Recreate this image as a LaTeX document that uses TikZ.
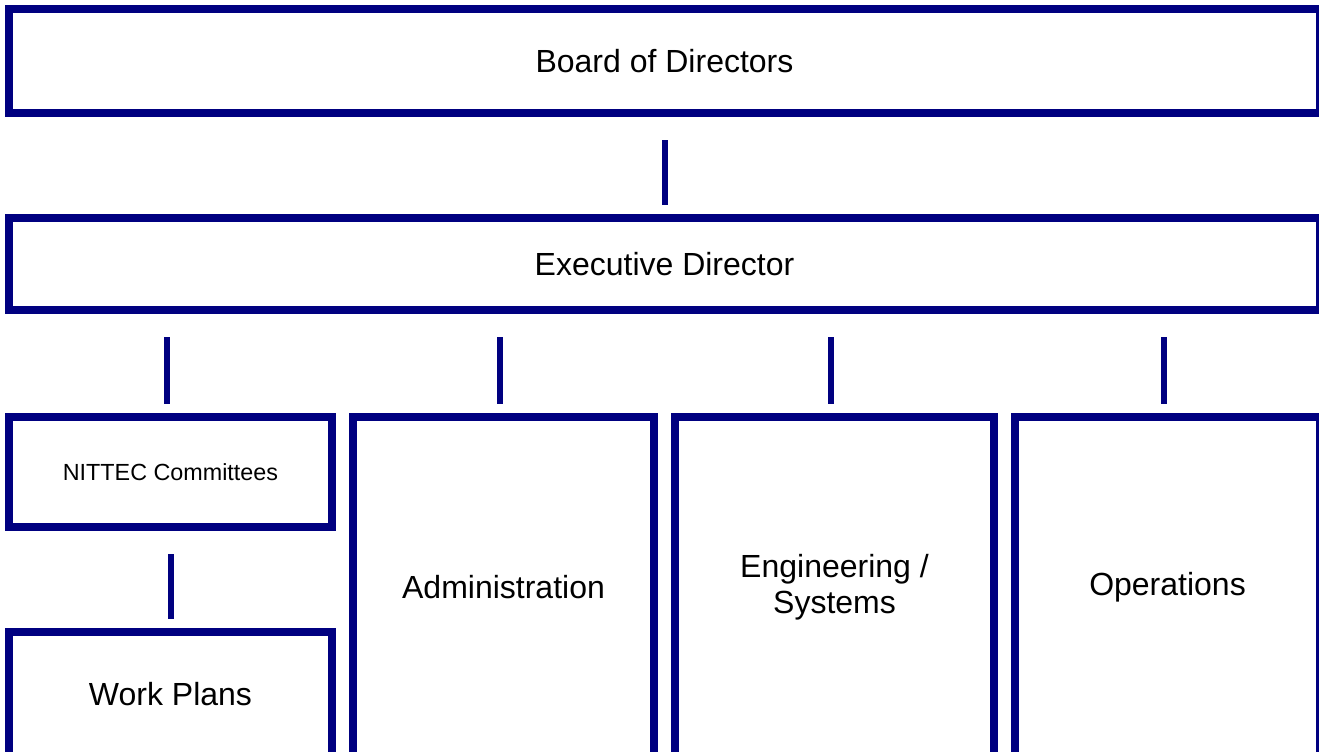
\documentclass[tikz,border=0pt]{standalone}
\usepackage{fontspec}
\setmainfont{Liberation Sans}
\definecolor{orgnavy}{RGB}{0,0,128}
\tikzset{
  orgbox/.style={draw=orgnavy, line width=6pt, rectangle, inner sep=0pt, font=\fontsize{24}{27}\selectfont, align=center},
  stem/.style={draw=orgnavy, line width=4.5pt, shorten <=17.25pt, shorten >=6.75pt}
}
\begin{document}
\begin{tikzpicture}[x=0.75pt,y=-0.75pt]
    \path[use as bounding box, clip] (0,0) rectangle (1319,751);
    \node[orgbox, minimum width=983.25pt, minimum height=78pt] (board) at (664.5,61) {Board of Directors};
    \node[orgbox, minimum width=983.25pt, minimum height=69pt] (exec) at (664.5,264) {Executive Director};
    \node[orgbox, minimum width=242.25pt, minimum height=82.5pt, font=\fontsize{17.5}{21}\selectfont] (nittec) at (170.5,472) {NITTEC Committees};
    \node[orgbox, minimum width=242.25pt, minimum height=93.75pt] (work) at (170.5,694.5) {Work Plans};
    \node[orgbox, minimum width=225.75pt, minimum height=255pt] (admin) at (503.5,587) {Administration};
    \node[orgbox, minimum width=239.25pt, minimum height=255pt] (eng) at (834.5,587) {Engineering /\\Systems};
    \node[orgbox, minimum width=228.75pt, minimum height=255pt] (ops) at (1167.5,587) {Operations};
    % connectors
    \draw[stem] (board) -- (exec);
    \draw[stem] (nittec) -- (work);
    \foreach \n in {nittec,admin,eng,ops}
        \draw[stem] ([xshift=-3pt]exec.south -| \n.north) -- ([xshift=-3pt]\n.north);
\end{tikzpicture}
\end{document}
